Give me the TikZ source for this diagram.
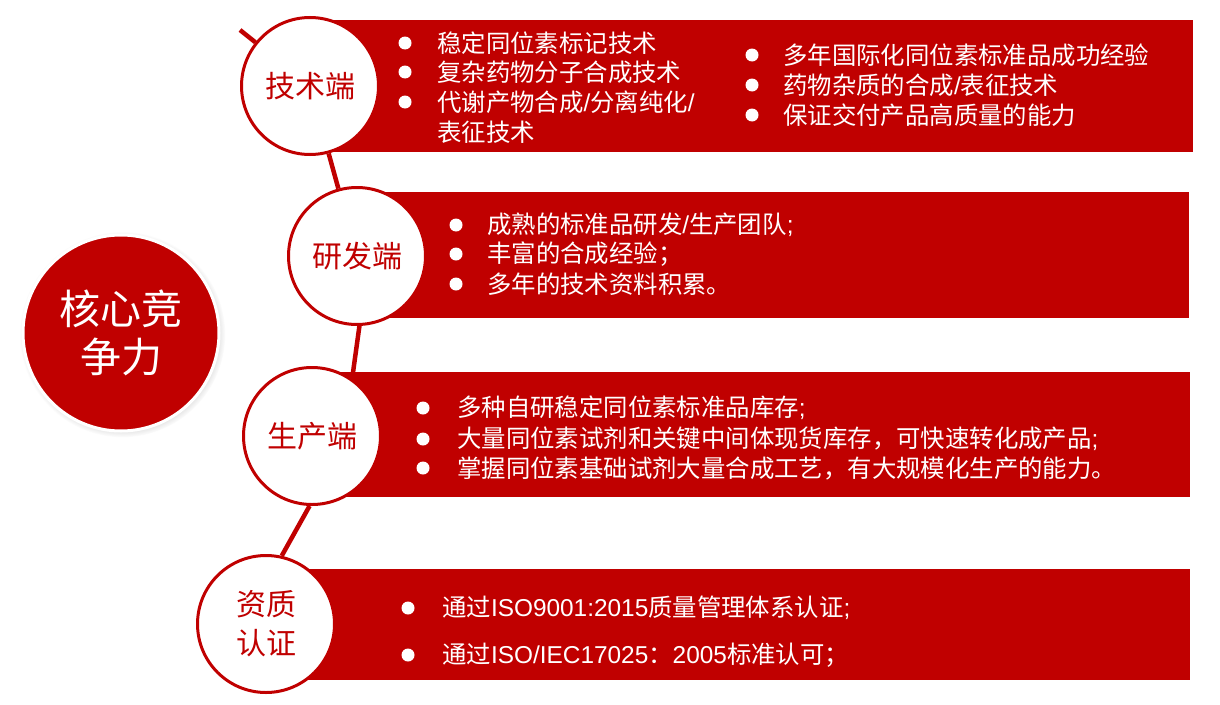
\documentclass[tikz,border=0pt]{standalone}
\usepackage{fontspec}
\newfontfamily\cjk{Noto Sans CJK SC}
\newfontfamily\latin{Liberation Sans}
\usetikzlibrary{shadows}
\definecolor{corered}{RGB}{192,0,0}
\pgfdeclarelayer{back}
\pgfdeclarelayer{bars}
\pgfsetlayers{back,bars,main}

\begin{document}
\begin{tikzpicture}[x=1pt, y=-1pt,
    stage/.style={circle, draw=corered, line width=3pt, fill=white, minimum size=137pt, inner sep=0pt,
                  text=corered, font=\cjk\fontsize{30}{39}\selectfont, align=center},
    core/.style={circle, draw=white, line width=3pt, fill=corered, minimum size=196pt, inner sep=0pt,
                 text=white, font=\cjk\fontsize{41}{48}\selectfont, align=center,
                 circular drop shadow={shadow scale=1.05, opacity=0.45}},
    dot/.style={circle, fill=white, inner sep=0pt, minimum size=13pt},
    item/.style={anchor=west, inner sep=0pt, text=white, font=\cjk\fontsize{24.4}{28}\selectfont},
    link/.style={draw=corered, line width=4.5pt},
    bar/.style={fill=corered}]

        \useasboundingbox (0,0) rectangle (1220,704);

        \node[core]  (core) at (121,333) {核心竞\\争力};

        \node[stage] (tech) at (310, 86) {技术端};
        \node[stage] (dev)  at (357,256) {研发端};
        \node[stage] (prod) at (312,436) {生产端};
        \node[stage] (cert) at (266,624) {资质\\认证};

        \coordinate (stub) at (240,30);

        \begin{pgfonlayer}{bars}
          \fill[bar] (310, 20) rectangle (1193,152);
          \fill[bar] (357,192) rectangle (1189,318);
          \fill[bar] (312,372) rectangle (1190,497);
          \fill[bar] (266,569) rectangle (1190,680);
        \end{pgfonlayer}

        \begin{pgfonlayer}{back}
          \draw[link] (stub) to (tech);
          \draw[link] (tech) to (dev);
          \draw[link] (dev.-88) to (prod.55);
          \draw[link] (prod.-92) to (cert.77);
        \end{pgfonlayer}

        % 技术端
        \node[dot]  (b11) at (405, 43) {};
        \node[dot]  (b12) at (405, 72) {};
        \node[dot]  (b13) at (405,102) {};
        \node[item] (t11) at (437, 43) {稳定同位素标记技术};
        \node[item] (t12) at (437, 72) {复杂药物分子合成技术};
        \node[item] (t13) at (437,102) {代谢产物合成{\latin/}分离纯化{\latin/}};
        \node[item] (t14) at (437,132) {表征技术};
        \node[dot]  (b15) at (752, 55) {};
        \node[dot]  (b16) at (752, 85) {};
        \node[dot]  (b17) at (752,115) {};
        \node[item] (t15) at (783, 55) {多年国际化同位素标准品成功经验};
        \node[item] (t16) at (783, 85) {药物杂质的合成{\latin/}表征技术};
        \node[item] (t17) at (783,115) {保证交付产品高质量的能力};

        % 研发端
        \node[dot]  (b21) at (456,225) {};
        \node[dot]  (b22) at (456,254) {};
        \node[dot]  (b23) at (456,284) {};
        \node[item] (t21) at (487,225) {成熟的标准品研发{\latin/}生产团队{\latin;}};
        \node[item] (t22) at (487,254) {丰富的合成经验；};
        \node[item] (t23) at (487,284) {多年的技术资料积累。};

        % 生产端
        \node[dot]  (b31) at (423,408) {};
        \node[dot]  (b32) at (423,439) {};
        \node[dot]  (b33) at (423,468) {};
        \node[item] (t31) at (457,408) {多种自研稳定同位素标准品库存{\latin;}};
        \node[item] (t32) at (457,439) {大量同位素试剂和关键中间体现货库存，可快速转化成产品{\latin;}};
        \node[item] (t33) at (457,468) {掌握同位素基础试剂大量合成工艺，有大规模化生产的能力。};

        % 资质认证
        \node[dot]  (b41) at (408,608) {};
        \node[dot]  (b42) at (408,655) {};
        \node[item] (t41) at (442,608) {通过{\latin ISO9001:2015}质量管理体系认证{\latin;}};
        \node[item] (t42) at (442,655) {通过{\latin ISO/IEC17025}：{\latin 2005}标准认可；};
      \end{tikzpicture}
\end{document}
